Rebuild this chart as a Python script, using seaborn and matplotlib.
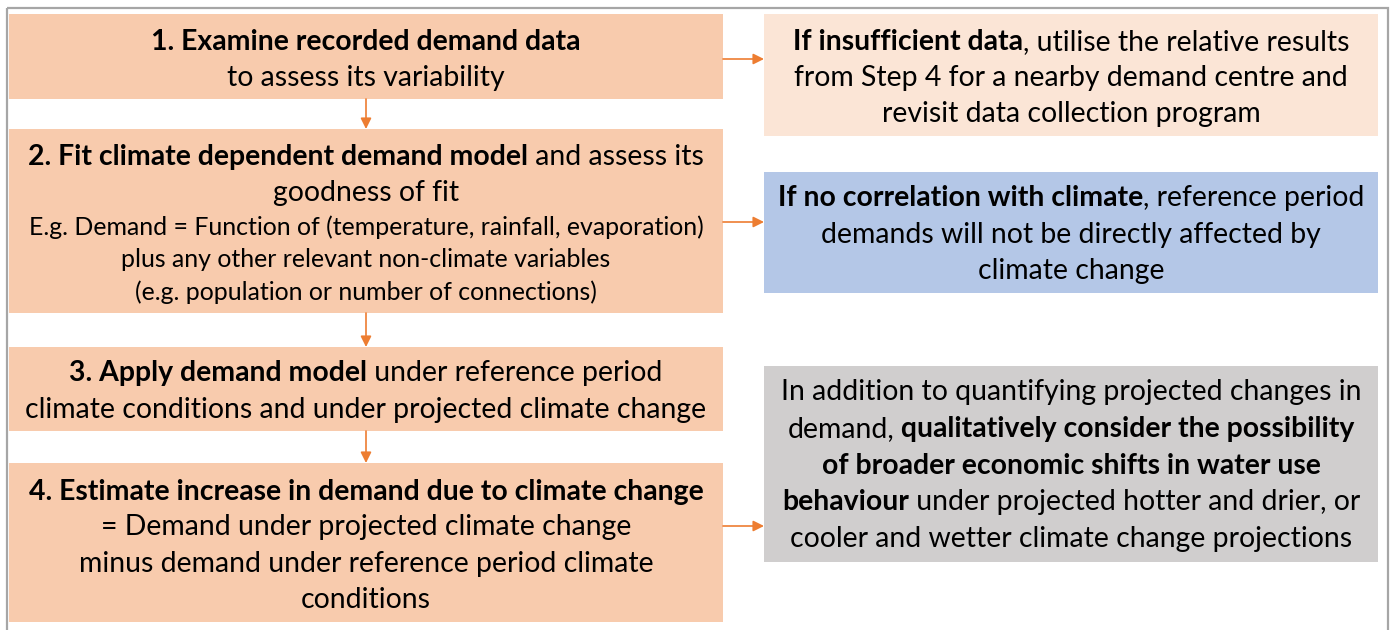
import matplotlib
matplotlib.use("Agg")
import matplotlib.pyplot as plt
import seaborn as sns
from matplotlib.patches import Rectangle

sns.set_theme(style="white")
plt.rcParams['font.family'] = ['Lato', 'DejaVu Sans']

B, R = "bold", "normal"

# ---------------- data (texts) ----------------
step1_lines = [[("1. Examine recorded demand data", B)],
               [("to assess its variability", R)]]
step2_lines = [[("2. Fit climate dependent demand model", B), (" and assess its", R)],
               [("goodness of fit", R)]]
step2_small = [[("E.g. Demand = Function of (temperature, rainfall, evaporation)", R)],
               [("plus any other relevant non-climate variables", R)],
               [("(e.g. population or number of connections)", R)]]
step3_lines = [[("3. Apply demand model", B), (" under reference period", R)],
               [("climate conditions and under projected climate change", R)]]
step4_lines = [[("4. Estimate increase in demand due to climate change", B)],
               [("= Demand under projected climate change", R)],
               [("minus demand under reference period climate", R)],
               [("conditions", R)]]
note1_lines = [[("If insufficient data", B), (", utilise the relative results", R)],
               [("from Step 4 for a nearby demand centre and", R)],
               [("revisit data collection program", R)]]
note2_lines = [[("If no correlation with climate", B), (", reference period", R)],
               [("demands will not be directly affected by", R)],
               [("climate change", R)]]
note3_lines = [[("In addition to quantifying projected changes in", R)],
               [("demand,", R), (" qualitatively consider the possibility", B)],
               [("of broader economic shifts in water use", B)],
               [("behaviour", B), (" under projected hotter and drier, or", R)],
               [("cooler and wetter climate change projections", R)]]

# ---------------- layout / style ----------------
W, H = 1392, 630
STEP_C = "#F8CBAD"
NOTE1_C = "#FBE5D6"
NOTE2_C = "#B4C7E7"
NOTE3_C = "#D0CECE"
ARROW_C = "#ED7D31"

fig = plt.figure(figsize=(W / 100, H / 100), dpi=100)
ax = fig.add_axes([0, 0, 1, 1])
ax.set_xlim(0, W)
ax.set_ylim(H, 0)
ax.axis("off")
renderer = fig.canvas.get_renderer()


def measure(txt, weight, size):
    t = ax.text(0, 0, txt, fontsize=size, fontweight=weight)
    w = t.get_window_extent(renderer).width
    t.remove()
    return w

# fit font sizes to the widths seen in the reference
MAIN = 20 * 429 / measure("1. Examine recorded demand data", B, 20)
SMALL = 20 * 678 / measure("E.g. Demand = Function of (temperature, rainfall, evaporation)", R, 20)


def draw_line(segs, cx, base, size):
    widths = [measure(s, w, size) for s, w in segs]
    x = cx - sum(widths) / 2
    for (s, w), wd in zip(segs, widths):
        ax.text(x, base, s, fontsize=size, fontweight=w, ha="left",
                va="baseline", color="black", zorder=3)
        x += wd


def box(x0, y0, x1, y1, color):
    ax.add_patch(Rectangle((x0, y0), x1 - x0, y1 - y0, facecolor=color,
                           edgecolor="none", zorder=1))


def arrow(p0, p1):
    ax.annotate("", xy=p1, xytext=p0,
                arrowprops=dict(arrowstyle="-|>", color=ARROW_C, lw=1.2,
                                mutation_scale=16, shrinkA=0, shrinkB=0),
                zorder=2)

# outer frame
ax.add_patch(Rectangle((7, 8), 1381, 700, fill=False, edgecolor="#A6A6A6",
                       lw=1.6, zorder=4))

LX0, LX1 = 9, 723
RX0, RX1 = 764, 1378
LCX = (LX0 + LX1) / 2
RCX = (RX0 + RX1) / 2

box(LX0, 14, LX1, 99, STEP_C)
box(LX0, 129, LX1, 313, STEP_C)
box(LX0, 347, LX1, 431, STEP_C)
box(LX0, 463, LX1, 622, STEP_C)
box(RX0, 14, RX1, 136, NOTE1_C)
box(RX0, 172, RX1, 293, NOTE2_C)
box(RX0, 366, RX1, 562, NOTE3_C)

for segs, b in zip(step1_lines, [50, 86]):
    draw_line(segs, LCX, b, MAIN)
for segs, b in zip(step2_lines, [165, 201]):
    draw_line(segs, LCX, b, MAIN)
for segs, b in zip(step2_small, [235, 267, 300]):
    draw_line(segs, LCX, b, SMALL)
for segs, b in zip(step3_lines, [381, 418]):
    draw_line(segs, LCX, b, MAIN)
for segs, b in zip(step4_lines, [500, 535, 572, 608]):
    draw_line(segs, LCX, b, MAIN)
for segs, b in zip(note1_lines, [50, 86, 122]):
    draw_line(segs, RCX, b, MAIN)
for segs, b in zip(note2_lines, [206, 243, 279]):
    draw_line(segs, RCX, b, MAIN)
for segs, b in zip(note3_lines, [400, 437, 474, 510, 547]):
    draw_line(segs, RCX, b, MAIN)

AX = 366
arrow((AX, 99), (AX, 129))
arrow((AX, 313), (AX, 347))
arrow((AX, 431), (AX, 463))
arrow((LX1, 59), (RX0, 59))
arrow((LX1, 222), (RX0, 222))
arrow((LX1, 526), (RX0, 526))

fig.savefig("out.png", dpi=100)
